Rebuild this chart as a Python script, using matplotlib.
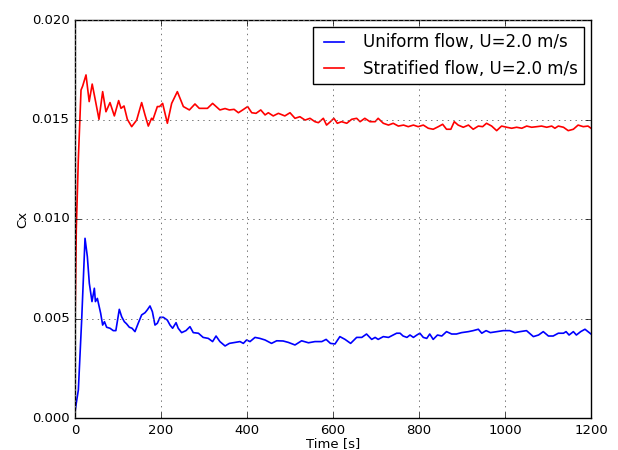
import matplotlib
matplotlib.use("Agg")
import matplotlib.pyplot as plt

# Uniform flow (blue)
t_uniform = [0, 2.3, 7.8, 15.5, 23.3, 28.7, 33.3, 39.5, 45, 47.5, 52, 59.7, 64.3, 68.5, 73.6, 81.4, 89, 95,
             103, 108.5, 114.7, 120, 126.4, 132.6, 139.5, 147, 155, 162.8, 168, 174.4, 180, 186, 191.5, 197.7,
             205.4, 214.7, 221, 227, 235, 240, 248, 258, 267.4, 275, 287, 298, 310, 320, 328, 337, 349, 359,
             372, 383.7, 391.5, 399, 407, 418.6, 430, 442, 457, 469, 484, 496, 511.6, 527, 543, 558, 574, 584,
             594, 604.6, 616, 628, 641, 655, 667, 678, 690, 698, 705, 717, 729, 740, 748, 756, 763, 772, 779,
             787, 795, 802, 810, 818, 825, 833, 843, 853, 864, 876, 887, 899, 915, 926, 938, 946, 956, 966,
             981, 996, 1011, 1023, 1035, 1050, 1066, 1078, 1089, 1101, 1112, 1124, 1136, 1142, 1149, 1159,
             1166, 1176, 1186, 1193, 1200]
cx_uniform = [0.0003, 0.00065, 0.00141, 0.00492, 0.00903, 0.00811, 0.00677, 0.00585, 0.00652, 0.00585, 0.00601,
              0.00526, 0.00467, 0.00484, 0.00456, 0.00451, 0.00439, 0.00439, 0.00546, 0.00509, 0.00484, 0.00473,
              0.00456, 0.00451, 0.00434, 0.00476, 0.00518, 0.00529, 0.00543, 0.00563, 0.00534, 0.00467, 0.00476,
              0.00506, 0.00506, 0.00492, 0.00467, 0.00451, 0.00479, 0.00451, 0.00429, 0.00439, 0.00459, 0.00429,
              0.00426, 0.00405, 0.00400, 0.00384, 0.00412, 0.00384, 0.00362, 0.00375, 0.00380, 0.00384, 0.00375,
              0.00392, 0.00384, 0.00405, 0.00400, 0.00392, 0.00375, 0.00388, 0.00387, 0.00380, 0.00367, 0.00388,
              0.00378, 0.00384, 0.00384, 0.00395, 0.00375, 0.00372, 0.00409, 0.00395, 0.00375, 0.00405, 0.00405,
              0.00422, 0.00395, 0.00405, 0.00395, 0.00409, 0.00405, 0.00417, 0.00426, 0.00426, 0.00412, 0.00405,
              0.00417, 0.00405, 0.00417, 0.00426, 0.00405, 0.00400, 0.00422, 0.00395, 0.00417, 0.00412, 0.00434,
              0.00422, 0.00422, 0.00429, 0.00434, 0.00439, 0.00446, 0.00426, 0.00439, 0.00429, 0.00434, 0.00439,
              0.00439, 0.00429, 0.00434, 0.00439, 0.00409, 0.00417, 0.00434, 0.00412, 0.00412, 0.00426, 0.00426,
              0.00434, 0.00417, 0.00434, 0.00417, 0.00434, 0.00446, 0.00434, 0.00422]

# Stratified flow (red)
t_strat = [0, 3, 7.7, 14, 17.8, 25.6, 33, 40, 46.5, 55.8, 64.3, 72, 81.4, 91.5, 101.5, 107, 114, 121.7, 131.8,
           143.4, 155, 162.8, 170.5, 178, 181, 191.5, 196.7, 203.8, 214.8, 224.8, 238, 252, 266, 279, 289, 298,
           308, 320, 337, 349, 359, 370, 380, 390, 401.5, 411, 421, 432, 442, 449.6, 461, 473, 488, 500, 511.6,
           523, 535, 546.5, 558, 566, 577.5, 585, 594, 602, 610, 620, 632, 643.5, 655, 663, 674, 686, 698, 705,
           717, 729, 740, 752, 764, 775, 787, 798, 810, 821.6, 833, 845, 855, 864, 874, 882, 891, 903, 915, 926,
           938, 948, 957, 969, 980.6, 992, 1004, 1015.5, 1027, 1039, 1050.5, 1062, 1074, 1085, 1097, 1108.6,
           1116, 1124, 1136, 1147, 1159, 1170, 1182, 1193, 1200]
cx_strat = [0.0046, 0.0095, 0.01297, 0.01648, 0.01668, 0.01724, 0.01590, 0.01678, 0.01606, 0.01501, 0.01640,
            0.01539, 0.01585, 0.01518, 0.01595, 0.01556, 0.01568, 0.01501, 0.01464, 0.01497, 0.01585, 0.01523,
            0.01467, 0.01506, 0.01498, 0.01565, 0.01565, 0.01581, 0.01481, 0.01581, 0.01640, 0.01565, 0.01548,
            0.01578, 0.01556, 0.01556, 0.01556, 0.01581, 0.01548, 0.01555, 0.01548, 0.01551, 0.01534, 0.01548,
            0.01565, 0.01534, 0.01531, 0.01548, 0.01523, 0.01534, 0.01518, 0.01531, 0.01518, 0.01534, 0.01506,
            0.01514, 0.01497, 0.01506, 0.01489, 0.01484, 0.01506, 0.01472, 0.01489, 0.01506, 0.01481, 0.01489,
            0.01481, 0.01501, 0.01506, 0.01489, 0.01506, 0.01489, 0.01489, 0.01506, 0.01481, 0.01472, 0.01481,
            0.01467, 0.01472, 0.01464, 0.01472, 0.01464, 0.01472, 0.01456, 0.01451, 0.01464, 0.01476, 0.01451,
            0.01451, 0.01489, 0.01472, 0.01461, 0.01472, 0.01451, 0.01467, 0.01464, 0.01481, 0.01467, 0.01444,
            0.01467, 0.01461, 0.01456, 0.01461, 0.01456, 0.01467, 0.01461, 0.01464, 0.01467, 0.01461, 0.01467,
            0.01456, 0.01467, 0.01461, 0.01444, 0.01451, 0.01472, 0.01464, 0.01467, 0.01456]

labels = ["Uniform flow, U=2.0 m/s", "Stratified flow, U=2.0 m/s"]
x_ticks = [0, 200, 400, 600, 800, 1000, 1200]
y_ticks = [0.000, 0.005, 0.010, 0.015, 0.020]

plt.style.use("classic")
fig = plt.figure(figsize=(6.18, 4.5), dpi=100, facecolor="white")
ax = fig.add_axes([75 / 618, 1 - 418 / 450, (591 - 75) / 618, (418 - 20) / 450])
ax.plot(t_uniform, cx_uniform, color="blue", lw=1.2, label=labels[0])
ax.plot(t_strat, cx_strat, color="red", lw=1.2, label=labels[1])
ax.set_xlim(0, 1200)
ax.set_ylim(0, 0.020)
ax.set_xticks(x_ticks)
ax.set_yticks(y_ticks)
ax.set_yticklabels([f"{v:.3f}" for v in y_ticks])
ax.tick_params(labelsize=9.5)
ax.grid(True, color="0.45", linestyle=":", linewidth=0.7)
ax.set_xlabel("Time [s]", fontsize=9.5, labelpad=0)
ax.set_ylabel("Cx", fontsize=9.5, labelpad=2)
leg = ax.legend(loc="upper right", fontsize=12, frameon=True, fancybox=False,
                handlelength=1.8, borderaxespad=0.4)
leg.get_frame().set_linewidth(1.0)
fig.savefig("out.png", dpi=100, facecolor="white")
